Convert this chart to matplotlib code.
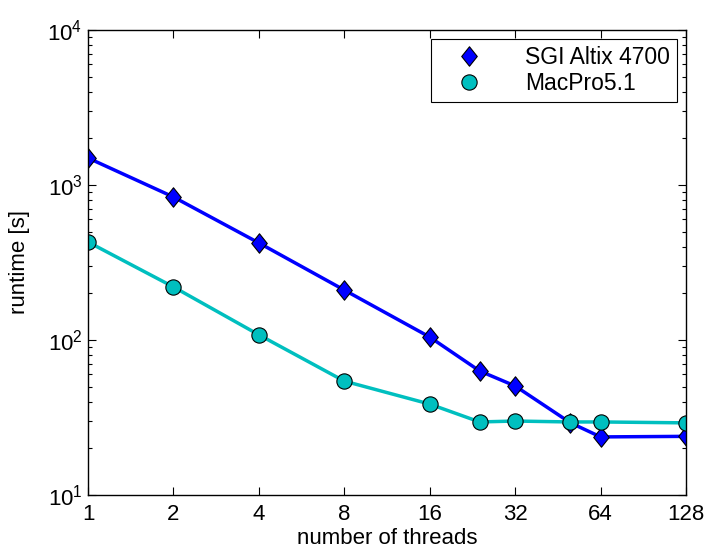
import matplotlib
matplotlib.use('Agg')
import matplotlib.pyplot as plt
import matplotlib.ticker as mticker
from matplotlib.path import Path
import numpy as np

plt.rcParams['font.family'] = ['Liberation Sans', 'DejaVu Sans']
plt.rcParams['mathtext.fontset'] = 'custom'
plt.rcParams['mathtext.rm'] = 'Liberation Sans'
plt.rcParams['mathtext.it'] = 'Liberation Sans'

# data
threads = [1, 2, 4, 8, 16, 24, 32, 50, 64, 128]
sgi_runtime = [1494, 837, 423, 210, 104.5, 63.1, 50.5, 29.3, 23.7, 23.9]
mac_runtime = [429, 220, 108, 54.3, 38.6, 29.6, 30.0, 29.6, 29.6, 29.2]
x_ticks = [1, 2, 4, 8, 16, 32, 64, 128]

# taller-than-wide diamond, like the MATLAB one
diamond = Path([(0, 1), (0.8, 0), (0, -1), (-0.8, 0), (0, 1)],
               [Path.MOVETO, Path.LINETO, Path.LINETO, Path.LINETO, Path.CLOSEPOLY])

fig = plt.figure(figsize=(7.08, 5.54), dpi=100)
ax = fig.add_axes([88/708, 59/554, 598/708, 465/554])

ax.plot(threads, sgi_runtime, color=(0, 0, 1), lw=2.5, marker=diamond,
        markersize=14, markerfacecolor=(0, 0, 1), markeredgecolor='k',
        markeredgewidth=0.8, label='SGI Altix 4700')
ax.plot(threads, mac_runtime, color=(0, 0.75, 0.75), lw=2.5, marker='o',
        markersize=11, markerfacecolor=(0, 0.75, 0.75), markeredgecolor='k',
        markeredgewidth=0.8, label='MacPro5.1')

ax.set_xscale('log', base=2)
ax.set_yscale('log')
ax.set_xlim(1, 128)
ax.set_ylim(10, 1e4)

ax.set_xticks(x_ticks)
ax.xaxis.set_major_formatter(mticker.FixedFormatter([str(t) for t in x_ticks]))
ax.xaxis.set_minor_locator(mticker.NullLocator())

ax.tick_params(which='both', direction='in', top=True, right=True, labelsize=16)
ax.tick_params(which='major', length=6, width=0.8)
ax.tick_params(which='minor', length=3, width=0.8)
ax.tick_params(axis='x', pad=6.5)
ax.tick_params(axis='y', pad=4)

for s in ax.spines.values():
    s.set_linewidth(1.0)

ax.set_xlabel('number of threads', fontsize=16)
ax.set_ylabel('runtime [s]', fontsize=16)
ax.xaxis.set_label_coords(0.5, -0.072)
ax.yaxis.set_label_coords(-0.097, 0.5)

leg = ax.legend(loc='upper right', fontsize=16.5, fancybox=False, framealpha=1,
                edgecolor='k', borderaxespad=0.4, handlelength=2.7,
                handletextpad=1.1, borderpad=0.3, labelspacing=0.15)
leg.get_frame().set_linewidth(0.8)
for h in leg.legend_handles:
    h.set_linestyle('none')

fig.savefig('out.png', dpi=100)
